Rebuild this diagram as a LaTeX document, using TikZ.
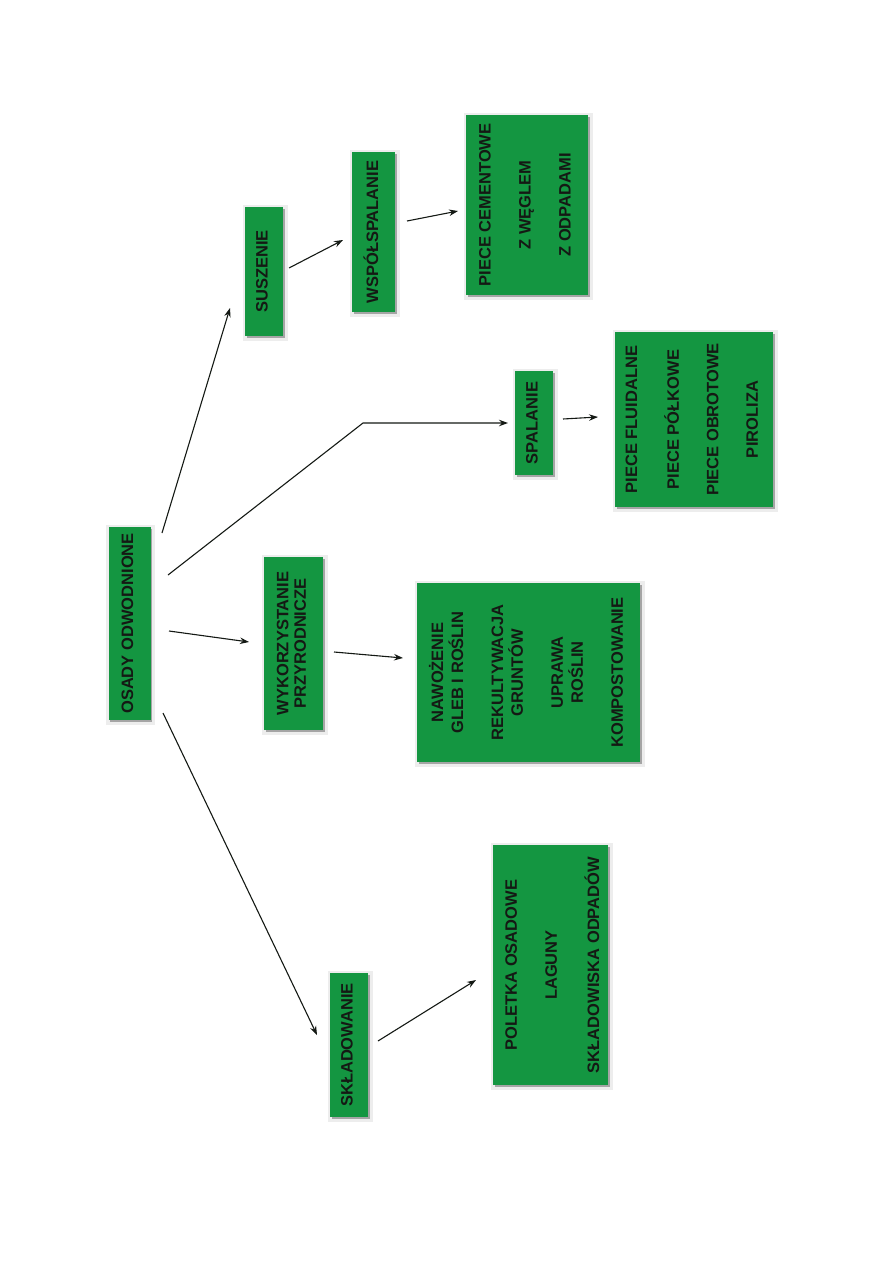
\documentclass[tikz,border=0pt]{standalone}
\usepackage{fontspec}
\setmainfont{Liberation Sans}
\usepackage{graphicx}
\usetikzlibrary{calc,shadows,arrows.meta}
\definecolor{boxgreen}{RGB}{20,150,65}
\definecolor{txt}{RGB}{20,25,20}
\newcommand{\rtext}[1]{\rotatebox{90}{\begin{tabular}{@{}c@{}}#1\end{tabular}}}
\begin{document}
\begin{tikzpicture}[x=1pt,y=-1pt,
  gbox/.style={fill=boxgreen, inner sep=0pt, text=txt,
    font=\fontsize{16.5}{17.5}\selectfont\bfseries,
    preaction={draw=black, draw opacity=0.07, line width=7pt, transform canvas={shift={(1pt,-1pt)}}},
    drop shadow={shadow xshift=1.5pt,shadow yshift=-1.5pt,opacity=0.3,fill=black}},
  arr/.style={-{Stealth[length=9pt,width=6.5pt]}, line width=1.1pt, draw=txt}]
\useasboundingbox (0,0) rectangle (893,1263);

\node[gbox, minimum width=42pt, minimum height=193pt] (osady) at (129.5,623.5) {\rtext{OSADY ODWODNIONE}};
\node[gbox, minimum width=38pt, minimum height=129pt] (susz) at (264,271.5) {\rtext{SUSZENIE}};
\node[gbox, minimum width=43pt, minimum height=160pt] (wsp) at (373.5,232) {\rtext{WSPÓŁSPALANIE}};
\node[gbox, minimum width=122pt, minimum height=180pt] (cem) at (527,205)
  {\rtext{PIECE CEMENTOWE\\[22.5pt] Z WĘGLEM\\[22.5pt] Z ODPADAMI}};
\node[gbox, minimum width=38pt, minimum height=104pt] (spal) at (534,423) {\rtext{SPALANIE}};
\node[gbox, minimum width=158pt, minimum height=175pt] (piece) at (694,419.5)
  {\rtext{PIECE FLUIDALNE\\[22pt] PIECE PÓŁKOWE\\[22pt] PIECE OBROTOWE\\[22pt] PIROLIZA}};
\node[gbox, minimum width=59pt, minimum height=173pt] (wyk) at (293.5,643.5) {\rtext{WYKORZYSTANIE\\PRZYRODNICZE}};
\node[gbox, minimum width=223pt, minimum height=179pt] (naw) at (528.5,672.5)
  {\rtext{NAWOŻENIE\\GLEB I ROŚLIN\\[22.5pt] REKULTYWACJA\\GRUNTÓW\\[22.5pt] UPRAWA\\ROŚLIN\\[22.5pt] KOMPOSTOWANIE}};
\node[gbox, minimum width=38pt, minimum height=144pt] (skl) at (349,1045) {\rtext{SKŁADOWANIE}};
\node[gbox, minimum width=115pt, minimum height=240pt] (pol) at (550.5,965)
  {\hspace*{8pt}\rtext{POLETKA OSADOWE\\[22.5pt] LAGUNY\\[22.5pt] SKŁADOWISKA ODPADÓW}};

\draw[arr] ($(osady)+(32.5,-90.5)$) -- ($(susz)+(-34,36.5)$);
\draw[arr] ($(osady)+(38.5,-48.5)$) -- ($(spal)+(-171,0)$) -- ($(spal)+(-26,0)$);
\draw[arr] ($(osady)+(39.5,7.5)$) -- ($(wyk)+(-44.5,-1.5)$);
\draw[arr] ($(osady)+(33.5,89.5)$) -- ($(skl)+(-32,-10)$);
\draw[arr] ($(susz)+(25,-3.5)$) -- ($(wsp)+(-30.5,8)$);
\draw[arr] ($(wsp)+(33.5,-11)$) -- ($(cem)+(-69,6)$);
\draw[arr] ($(spal)+(29,-4)$) -- ($(piece)+(-96,-2.5)$);
\draw[arr] ($(wyk)+(40.5,8.5)$) -- ($(naw)+(-125.5,-14.5)$);
\draw[arr] ($(skl)+(29,-4)$) -- ($(pol)+(-74.5,15)$);
\end{tikzpicture}
\end{document}
